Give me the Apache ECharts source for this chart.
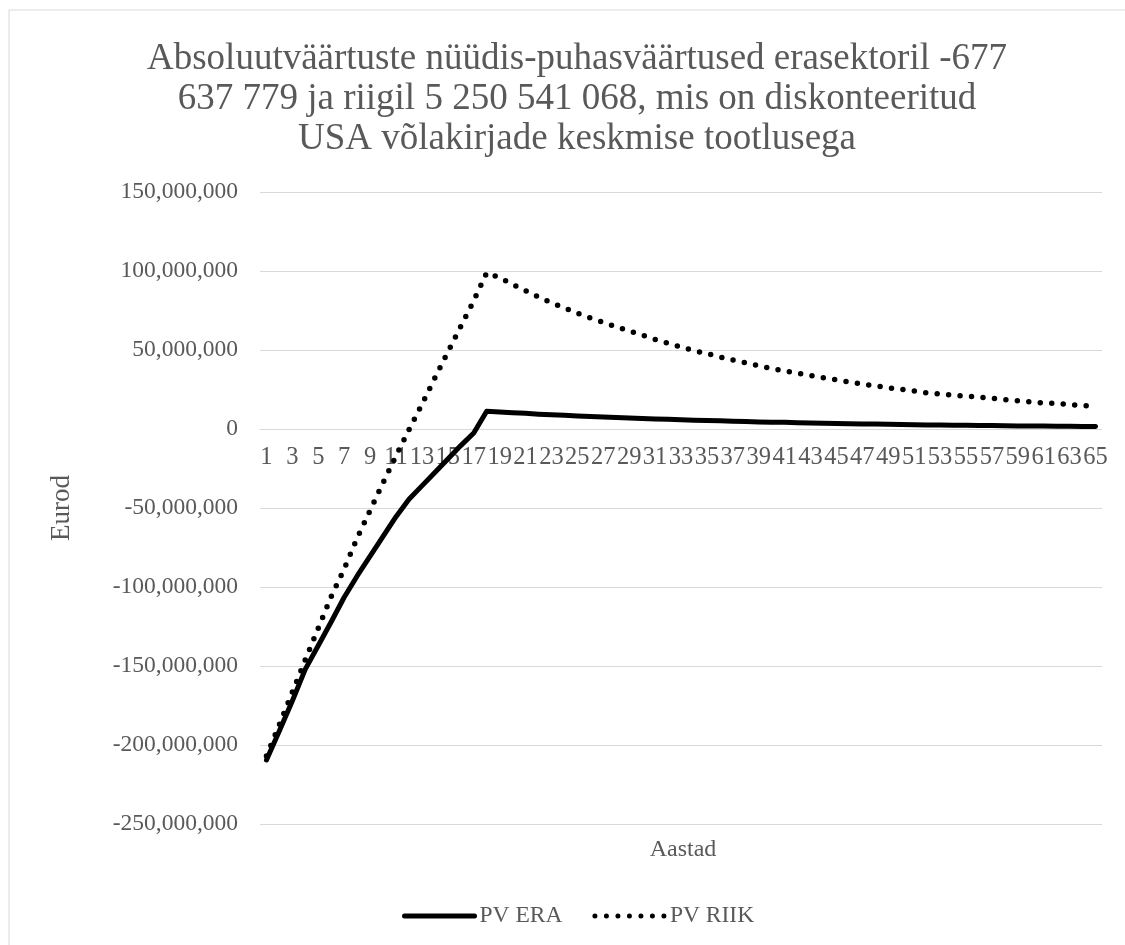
<!DOCTYPE html>
<html>
<head>
<meta charset="utf-8">
<script src="https://cdn.jsdelivr.net/npm/echarts@6/dist/echarts.min.js"></script>
<style>
  html, body { margin: 0; padding: 0; background: #fff; }
  #chart { width: 1125px; height: 945px; }
</style>
</head>
<body>
<div id="chart"></div>
<script>
// Years 1..65
const years = ['1','2','3','4','5','6','7','8','9','10','11','12','13','14','15','16','17','18','19','20',
  '21','22','23','24','25','26','27','28','29','30','31','32','33','34','35','36','37','38','39','40',
  '41','42','43','44','45','46','47','48','49','50','51','52','53','54','55','56','57','58','59','60',
  '61','62','63','64','65'];

// Present value per year, private sector (million EUR)
const pvEra = [-209.5, -191, -172, -152, -137, -122, -106.5, -93, -80.5, -68,
  -55.5, -44.5, -36, -27.5, -19, -10.5, -2.5, 11.2, 10.8, 10.3,
  9.9, 9.4, 9.0, 8.7, 8.3, 7.9, 7.6, 7.3, 7.0, 6.7,
  6.4, 6.1, 5.9, 5.6, 5.4, 5.2, 4.9, 4.7, 4.5, 4.3,
  4.2, 4.0, 3.8, 3.7, 3.5, 3.4, 3.2, 3.1, 2.95, 2.8,
  2.7, 2.6, 2.5, 2.4, 2.3, 2.2, 2.15, 2.05, 1.97, 1.9,
  1.83, 1.77, 1.7, 1.65, 1.6];

// Present value per year, state (million EUR)
const pvRiik = [-207, -187, -166.5, -146, -126, -106, -88.5, -69, -51.5, -34,
  -17, -0.5, 15.6, 32.3, 48.7, 65, 81.2, 98.9, 95.8, 91.5,
  87.5, 83.5, 79.9, 76.6, 73.3, 70.3, 67.5, 64.7, 62, 59.4,
  56.7, 54.3, 51.9, 49.6, 47.7, 45.6, 43.7, 41.9, 40.1, 38.3,
  36.7, 35.3, 33.8, 32.4, 31.1, 29.8, 28.4, 27.3, 26.1, 25.1,
  24, 22.9, 22.2, 21.3, 20.8, 20.2, 19.5, 18.6, 17.8, 17.1,
  16.5, 16.1, 15.5, 14.9, 14.4];

const seriesNames = ['PV ERA', 'PV RIIK'];
const titleText = 'Absoluutväärtuste nüüdis-puhasväärtused erasektoril -677\n637 779 ja riigil 5 250 541 068, mis on diskonteeritud\nUSA võlakirjade keskmise tootlusega';
const yName = 'Eurod';
const xName = 'Aastad';

const MILLION = 1e6;
const Y_MIN = -250 * MILLION;
const Y_MAX = 150 * MILLION;
const FONT = '"Liberation Serif", "Times New Roman", serif';
const TEXT_COLOR = '#595959';
const GRID = { left: 260, right: 23, top: 192, bottom: 121 };
const PLOT_H = 945 - GRID.top - GRID.bottom;
// category axis sits on the zero line of the value axis
const xAxisOffset = -PLOT_H * (0 - Y_MIN) / (Y_MAX - Y_MIN);

const chart = echarts.init(document.getElementById('chart'), null, { renderer: 'canvas' });

function fmt(v) {
  return Math.round(v).toLocaleString('en-US');
}

chart.setOption({
  backgroundColor: '#ffffff',
  animation: false,
  title: {
    text: titleText,
    left: 572,
    top: 34,
    textAlign: 'center',
    textStyle: {
      fontFamily: FONT,
      fontSize: 37,
      fontWeight: 'normal',
      color: TEXT_COLOR,
      lineHeight: 40
    }
  },
  grid: { left: GRID.left, right: GRID.right, top: GRID.top, bottom: GRID.bottom, containLabel: false },
  xAxis: {
    type: 'category',
    data: years,
    boundaryGap: true,
    offset: xAxisOffset,
    axisLine: { show: true, onZero: false, lineStyle: { color: '#d9d9d9', width: 1 } },
    axisTick: { show: false },
    axisLabel: {
      interval: 1,
      margin: 16,
      fontFamily: FONT,
      fontSize: 24.5,
      color: TEXT_COLOR
    },
    splitLine: { show: false }
  },
  yAxis: {
    type: 'value',
    min: Y_MIN,
    max: Y_MAX,
    interval: 50 * MILLION,
    axisLine: { show: false },
    axisTick: { show: false },
    axisLabel: {
      margin: 22,
      fontFamily: FONT,
      fontSize: 23.5,
      color: TEXT_COLOR,
      formatter: fmt
    },
    splitLine: { lineStyle: { color: '#d9d9d9', width: 1 } }
  },
  legend: {
    data: seriesNames,
    left: 397,
    top: 899,
    itemWidth: 70,
    itemHeight: 14,
    itemGap: 30,
    itemStyle: { color: 'rgba(0,0,0,0)', borderColor: 'rgba(0,0,0,0)', borderWidth: 0, opacity: 0 },
    lineStyle: { width: 5 },
    textStyle: { fontFamily: FONT, fontSize: 23.5, color: TEXT_COLOR }
  },
  graphic: [
    {
      type: 'rect',
      shape: { x: 9, y: 10, width: 1300, height: 1100 },
      style: { fill: 'none', stroke: '#d9d9d9', lineWidth: 1 },
      silent: true
    },
    {
      type: 'text',
      x: 62,
      y: 508,
      rotation: Math.PI / 2,
      style: {
        text: yName,
        fontFamily: FONT,
        fontSize: 27,
        fill: TEXT_COLOR,
        align: 'center',
        verticalAlign: 'middle'
      }
    },
    {
      type: 'text',
      x: 683,
      y: 850,
      style: {
        text: xName,
        fontFamily: FONT,
        fontSize: 24,
        fill: TEXT_COLOR,
        align: 'center',
        verticalAlign: 'middle'
      }
    }
  ],
  series: [
    {
      name: seriesNames[0],
      type: 'line',
      data: pvEra.map(v => v * MILLION),
      symbol: 'none',
      showSymbol: false,
      lineStyle: { color: '#000000', width: 5, cap: 'round', join: 'round' },
      itemStyle: { color: '#000000' },
      z: 3
    },
    {
      name: seriesNames[1],
      type: 'line',
      data: pvRiik.map(v => v * MILLION),
      symbol: 'none',
      showSymbol: false,
      lineStyle: { color: '#000000', width: 5.5, type: [0, 11.5], cap: 'round', join: 'round' },
      itemStyle: { color: '#000000' },
      z: 2
    }
  ]
});
</script>
</body>
</html>
